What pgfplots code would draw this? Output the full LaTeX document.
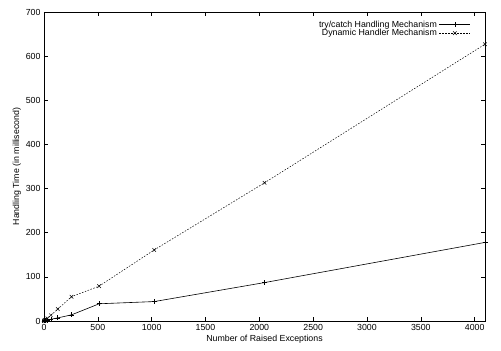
\documentclass[border=0pt]{standalone}
\usepackage{pgfplots}
\pgfplotsset{compat=1.18}
\usepackage{fontspec}
\setmainfont{Liberation Sans}
\begin{document}
\begin{tikzpicture}
\begin{axis}[
  scale only axis,
  width=441pt, height=309pt,
  xmin=0, xmax=4096, ymin=0, ymax=700,
  xtick={0,500,...,4000}, ytick={0,100,...,700},
  tick align=inside, major tick length=4pt,
  xtick pos=both, ytick pos=both,
  axis line style={line width=0.8pt},
  tick style={line width=0.6pt, black},
  /pgf/number format/assume math mode=true,
  /pgf/number format/set thousands separator={},
  tick label style={font=\fontsize{8.8}{10}\selectfont},
  label style={font=\fontsize{8.8}{10}\selectfont},
  xlabel={Number of Raised Exceptions},
  ylabel={Handling Time (in millisecond)},
  xlabel style={yshift=2pt},
  ylabel style={yshift=-2pt},
  legend plot pos=right,
  legend cell align=right,
  legend style={draw=none, fill=none, at={(0.975,0.985)}, anchor=north east,
    font=\fontsize{8.8}{9.5}\selectfont, row sep=-3.5pt,
    /tikz/every even column/.append style={column sep=2pt}},
  legend image code/.code={\draw[#1] (0cm,0cm) -- (1.1cm,0cm); \draw[#1, only marks] plot coordinates {(0.55cm,0cm)};},
]
\addplot[black, line width=0.6pt, mark=+, mark size=2.5pt, mark options={solid}] coordinates {
(1,0) (2,0) (4,0) (8,1) (16,1) (32,2) (64,4) (128,7) (256,14) (512,39) (1024,44) (2048,87) (4096,178)};
\addlegendentry{try/catch Handling Mechanism}
\addplot[black, line width=0.5pt, dash pattern=on 1.5pt off 1.5pt, mark=x, mark size=2.5pt, mark options={solid}] coordinates {
(1,0) (2,0) (4,1) (8,2) (16,3) (32,6) (64,13) (128,27) (256,55) (512,79) (1024,161) (2048,313) (4096,627)};
\addlegendentry{Dynamic Handler Mechanism}
\end{axis}
\pgfresetboundingbox
\path ([xshift=-44pt,yshift=-30pt]current axis.south west) rectangle ([xshift=16pt,yshift=12pt]current axis.north east);
\end{tikzpicture}
\end{document}
